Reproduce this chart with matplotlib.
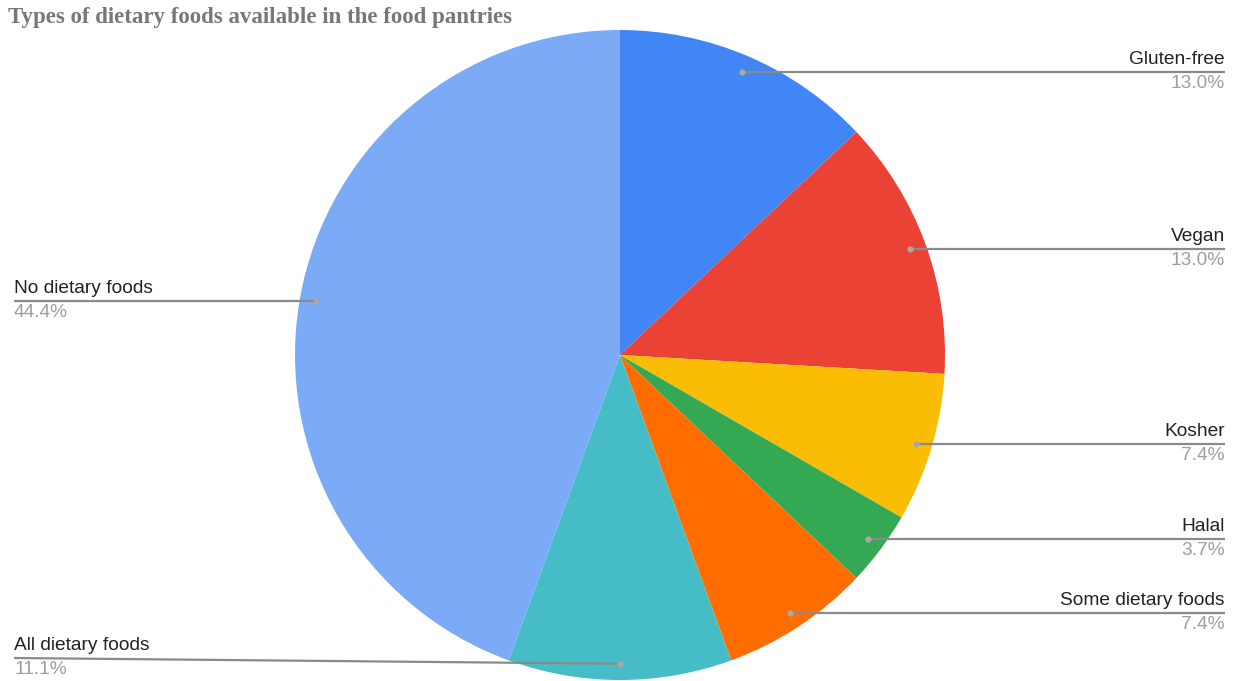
import numpy as np
import matplotlib.pyplot as plt

# data
labels = ['Gluten-free', 'Vegan', 'Kosher', 'Halal', 'Some dietary foods',
          'All dietary foods', 'No dietary foods']
counts = [7, 7, 4, 2, 4, 6, 24]
colors = ['#4285F4', '#EA4335', '#FBBC04', '#34A853', '#FF6D01', '#46BDC6', '#7BAAF7']

W, H = 1236, 681
fig = plt.figure(figsize=(W / 100, H / 100), dpi=100)
ax = fig.add_axes([0, 0, 1, 1])

cx, cy, r = 620, H - 355, 325
wedges, _ = ax.pie(counts, colors=colors, startangle=90, counterclock=False,
                   center=(cx, cy), radius=r, frame=True,
                   wedgeprops=dict(linewidth=0))
ax.set_xlim(0, W)
ax.set_ylim(0, H)
ax.set_aspect('equal')
ax.axis('off')

total = sum(counts)
# label layout: side and y position (image px) of the leader end
sides = ['R', 'R', 'R', 'R', 'R', 'L', 'L']
line_y = [None, None, None, None, None, 658, None]

for w, lab, c, side, ly in zip(wedges, labels, counts, sides, line_y):
    mid = np.deg2rad((w.theta1 + w.theta2) / 2)
    px = cx + 0.95 * r * np.cos(mid)
    py = cy + 0.95 * r * np.sin(mid)
    ey = py if ly is None else H - ly
    ex = 1225 if side == 'R' else 14
    ax.plot([px, ex], [py, ey], color='#8a8a8a', lw=1.6, solid_capstyle='butt', zorder=3)
    ax.plot(px, py, 'o', ms=4.5, color='#a8a8a8', mec='none', zorder=4)
    ha = 'right' if side == 'R' else 'left'
    ax.text(ex, ey + 4, lab, ha=ha, va='bottom', fontsize=13.8,
            family='Liberation Sans', color='#222222')
    ax.text(ex, ey - 3, '%.1f%%' % (100 * c / total), ha=ha, va='top', fontsize=13.8,
            family='Liberation Sans', color='#9e9e9e')

fig.text(8 / W, 1 - 17 / H, 'Types of dietary foods available in the food pantries',
         ha='left', va='center', fontsize=16.5, family='Liberation Serif',
         fontweight='bold', color='#777777')

fig.savefig('out.png', dpi=100)
